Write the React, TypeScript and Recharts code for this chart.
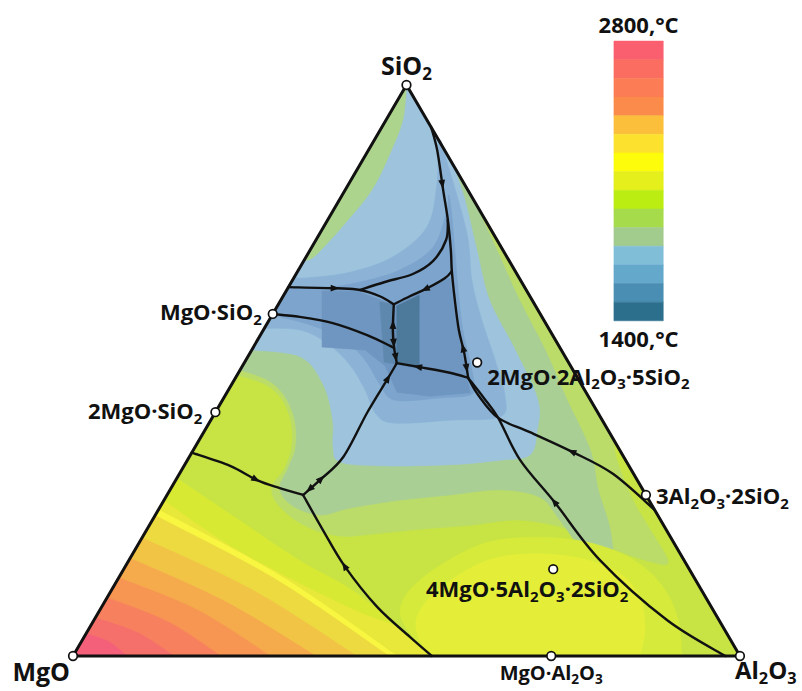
import React from "react";
import { ScatterChart, Scatter, XAxis, YAxis, ReferenceArea } from "recharts";

// every point is a composition [SiO2 wt%, Al2O3 wt%]; MgO = 100 - SiO2 - Al2O3
type Pt = [number, number];

const W = 802;
const H = 691;
const X_DOMAIN: [number, number] = [-10.945, 109.3];
const Y_DOMAIN: [number, number] = [-6.13, 114.886];
const FONT = '"Open Sans", "Noto Sans", sans-serif';
const INK = "#111";

const MGO_CORNER: Pt = [0, 0];
const AL2O3_CORNER: Pt = [0, 100];
const SIO2_CORNER: Pt = [100, 0];

const cornerNames = ["SiO2", "MgO", "Al2O3"];
const cornerPts: Pt[] = [SIO2_CORNER, MGO_CORNER, AL2O3_CORNER];

const compoundNames = ["MgO·SiO2", "2MgO·SiO2", "2MgO·2Al2O3·5SiO2", "3Al2O3·2SiO2", "4MgO·5Al2O3·2SiO2", "MgO·Al2O3"];
const compoundPts: Pt[] = [[59.9, 0], [42.7, 0], [51.4, 34.9], [28.2, 71.8], [15.2, 64.4], [0, 71.7]];

// colour scale, 2800 °C at the top down to 1400 °C
const tempTicks = ["2800,°C", "1400,°C"];
const colorSteps = [
  "#f95f6f", "#fa6d60", "#fb7c55", "#fb8b4b", "#fbbf3b", "#fce22f", "#fdfc0a", "#e5ef1c",
  "#bced12", "#a6dc4c", "#a2cb8e", "#80bed8", "#64a9cc", "#4b8eb3", "#2c6f8c",
];

// isotherms around the MgO corner, from the MgO-SiO2 side to the MgO-Al2O3 side
const isoMgO1: Pt[] = [[4.0, 0], [2.6, 4.1], [0, 8.2]];
const isoMgO2: Pt[] = [[6.8, 0], [4.2, 7.6], [0, 15.3]];
const isoMgO3: Pt[] = [[10.3, 0], [6.1, 11.2], [0, 22.3]];
const isoMgO4: Pt[] = [[13.8, 0], [8.1, 14.7], [0, 29.7]];
const isoMgO5: Pt[] = [[17.2, 0], [9.6, 18.1], [0, 36.6]];
const isoMgO6: Pt[] = [[20.8, 0], [11.6, 21.2], [0, 42.7]];
const isoMgO7: Pt[] = [[24.7, 0], [13.5, 23.7], [0, 47.5]];
const isoMgO8: Pt[] = [[25.7, 0], [14.0, 24.3], [0, 48.7]];
const isoMgO9: Pt[] = [[27.3, 0], [19.4, 13.8], [12.8, 27.6], [7.7, 39.2], [4.6, 47.4], [0, 53.8]];
const isoMgO10: Pt[] = [[31.2, 0], [23.8, 13.1], [16.8, 25.6], [12.4, 34.6], [8.6, 41.0], [0, 53.8]];

// isotherms closing around the low-temperature valley (outer to inner)
const valley1: Pt[] = [
  [49.2, 0], [47.6, 5.0], [45.0, 8.8], [41.0, 12.2], [36.6, 14.5], [32.9, 15.3], [29.4, 15.1], [26.1, 18.0],
  [22.8, 23.4], [21.0, 29.5], [21.5, 35.3], [22.2, 40.9], [22.9, 48.1], [23.8, 55.1], [22.1, 63.5], [18.9, 71.1],
  [16.5, 78.3], [16.5, 81.0], [22.1, 75.5], [27.3, 70.3], [34.3, 64.4], [37.8, 62.2],
];
const valley2: Pt[] = [
  [50.1, 0], [48.3, 5.1], [45.5, 9.0], [41.3, 12.6], [36.6, 15.1], [32.9, 15.8], [29.4, 16.3], [26.4, 19.6],
  [24.7, 24.7], [25.9, 28.6], [27.3, 35.4], [28.2, 42.4], [29.1, 49.5], [27.8, 56.1], [23.8, 61.1], [16.8, 69.1],
  [15.9, 72.8], [22.1, 69.5], [29.1, 64.2], [36.1, 59.5], [44.8, 51.7], [53.6, 44.0], [62.3, 35.8], [71.1, 28.0],
  [79.9, 20.1],
];
const valley3: Pt[] = [
  [53.6, 0], [52.4, 7.9], [47.5, 13.8], [41.3, 18.3], [36.6, 20.7], [34.0, 23.0], [33.3, 29.4], [33.5, 39.8],
  [34.3, 46.9], [35.2, 50.9], [39.6, 49.8], [44.8, 47.3], [53.6, 39.5], [62.3, 31.3], [71.1, 25.0], [79.9, 18.8],
  [85.1, 14.7], [87.7, 12.3],
];
const valley4: Pt[] = [
  [57.4, 0], [57.1, 5.5], [54.8, 10.7], [51.0, 16.0], [46.6, 20.5], [42.6, 24.0], [40.8, 27.6], [41.3, 35.9],
  [41.9, 43.1], [45.7, 41.9], [51.8, 37.4], [58.8, 31.9], [65.8, 26.9], [72.9, 22.8], [79.9, 17.8], [86.0, 13.2],
  [90.4, 9.7], [82.5, 13.3], [75.1, 15.5], [69.9, 13.0], [67.2, 7.9], [66.2, 1.7], [66.4, 0],
];
const valley5: Pt[] = [
  [59.7, 0], [58.0, 6.5], [55.3, 13.1], [51.8, 17.9], [47.5, 22.3], [44.8, 25.9], [45.2, 32.4], [45.7, 36.7],
  [47.5, 36.4], [51.8, 33.6], [57.1, 29.9], [64.1, 25.7], [71.1, 21.7], [77.2, 18.2], [80.7, 16.0], [78.1, 17.0],
  [71.6, 18.2], [67.6, 15.2], [65.5, 10.3], [64.6, 5.8], [64.4, 0],
];
const valley6: Pt[] = [
  [63.9, 5.4], [63.9, 10.6], [61.5, 17.2], [63.7, 20.2], [66.2, 23.4], [58.8, 28.0], [53.2, 31.7], [48.7, 34.7],
  [46.1, 36.5], [45.5, 30.8], [46.2, 25.5], [50.8, 21.4], [53.6, 17.0], [54.1, 10.3],
];
const valley7: Pt[] = [[62.0, 15.0], [61.6, 17.3], [51.1, 23.0], [51.5, 20.9]];
const valley8: Pt[] = [[61.3, 17.9], [63.2, 20.3], [50.4, 26.7], [51.1, 23.0]];

// hot dome over the spinel / sapphirine field
const dome1: Pt[] = [
  [0, 53.8], [4.0, 48.5], [7.7, 45.2], [11.6, 44.7], [15.9, 47.1], [19.8, 51.9], [20.8, 58.8], [20.0, 66.8],
  [17.2, 74.9], [12.4, 82.1], [6.3, 87.6], [0, 91.3],
];
const dome2: Pt[] = [
  [0, 53.8], [3.2, 50.2], [7.2, 48.1], [11.9, 49.1], [16.6, 53.5], [17.9, 60.0], [17.0, 68.0], [14.5, 74.7],
  [10.2, 79.9], [4.9, 83.3], [0, 85.0],
];
// warmer rim along the silica-rich MgO-SiO2 edge
const silicaRim: Pt[] = [[100, 0], [93.9, 2.5], [88.1, 3.5], [81.6, 4.0], [75.8, 2.9], [70.2, 1.3], [69.2, 0]];

// field boundaries
const bndTop: Pt[] = [[92.6, 7.4], [88.6, 10.3], [81.6, 14.7], [76.4, 18.0], [71.1, 21.1], [67.4, 23.1], [62.3, 26.1], [57.1, 29.3], [53.1, 32.1], [48.7, 34.9]];
const bndUpper: Pt[] = [[64.6, 0], [64.4, 7.4], [64.1, 11.0], [63.0, 14.5], [61.6, 17.3]];
const bndArc: Pt[] = [[64.1, 11.0], [65.5, 14.0], [66.9, 17.5], [69.2, 19.4], [72.9, 19.5], [76.4, 18.0]];
const bndLink: Pt[] = [[61.6, 17.3], [63.0, 19.0], [64.4, 20.9], [66.2, 22.7], [67.4, 23.1]];
const bndCentral: Pt[] = [[61.6, 17.3], [57.1, 19.4], [53.9, 21.2], [51.3, 22.9]];
const bndEnstatite: Pt[] = [[59.9, 0], [59.4, 4.3], [58.3, 9.8], [56.2, 16.0], [54.3, 20.4], [53.9, 21.2]];
const bndCordierite: Pt[] = [[51.3, 22.9], [50.6, 26.6], [49.6, 31.7], [48.7, 34.9]];
const bndMiddle: Pt[] = [[51.3, 22.9], [48.3, 22.9], [42.6, 22.8], [34.9, 23.1], [30.8, 21.6], [28.2, 20.4]];
const bndForsterite: Pt[] = [[35.6, 0], [33.3, 6.9], [30.8, 12.2], [29.4, 16.3], [28.2, 20.4]];
const bndSpinel: Pt[] = [[28.2, 20.4], [22.1, 26.4], [15.6, 33.0], [8.6, 41.3], [3.3, 48.9], [0, 53.8]];
const bndMullite: Pt[] = [[48.7, 34.9], [45.7, 37.9], [41.7, 42.9], [39.2, 48.9], [35.7, 57.1], [31.9, 65.0], [25.6, 74.4]];
const bndCorundum: Pt[] = [[48.7, 34.9], [45.2, 39.0], [41.7, 42.9], [34.3, 49.9], [26.8, 58.9], [16.8, 70.6], [6.3, 85.9], [0, 97.8]];

// arrows: segment index along a boundary, where on it, forward (1) or backward (-1)
const arrows = [
  { line: "top", seg: 1, t: 0.85, dir: 1 },
  { line: "top", seg: 7, t: 0.8, dir: -1 },
  { line: "top", seg: 8, t: 0.6, dir: 1 },
  { line: "upper", seg: 0, t: 0.95, dir: 1 },
  { line: "link", seg: 1, t: 0.9, dir: -1 },
  { line: "central", seg: 0, t: 0.8, dir: -1 },
  { line: "central", seg: 1, t: 0.7, dir: 1 },
  { line: "central", seg: 2, t: 0.6, dir: 1 },
  { line: "cordierite", seg: 0, t: 0.95, dir: -1 },
  { line: "middle", seg: 0, t: 0.9, dir: -1 },
  { line: "middle", seg: 3, t: 0.95, dir: -1 },
  { line: "middle", seg: 4, t: 0.6, dir: 1 },
  { line: "forsterite", seg: 1, t: 0.95, dir: 1 },
  { line: "spinel", seg: 1, t: 0.98, dir: -1 },
  { line: "mullite", seg: 3, t: 0.98, dir: -1 },
  { line: "corundum", seg: 3, t: 0.98, dir: -1 },
];

const boundaries = [
  { id: "top", pts: bndTop },
  { id: "upper", pts: bndUpper },
  { id: "arc", pts: bndArc },
  { id: "link", pts: bndLink },
  { id: "central", pts: bndCentral },
  { id: "enstatite", pts: bndEnstatite },
  { id: "cordierite", pts: bndCordierite },
  { id: "middle", pts: bndMiddle },
  { id: "forsterite", pts: bndForsterite },
  { id: "spinel", pts: bndSpinel },
  { id: "mullite", pts: bndMullite },
  { id: "corundum", pts: bndCorundum },
];

const REST: Pt[] = [AL2O3_CORNER, SIO2_CORNER];
const fills = [
  { curve: [MGO_CORNER, AL2O3_CORNER, SIO2_CORNER], tail: [], color: "#f4607a", smooth: false },
  { curve: isoMgO1, tail: REST, color: "#f6706b", smooth: true },
  { curve: isoMgO2, tail: REST, color: "#f7815e", smooth: true },
  { curve: isoMgO3, tail: REST, color: "#f79553", smooth: true },
  { curve: isoMgO4, tail: REST, color: "#f5ab4c", smooth: true },
  { curve: isoMgO5, tail: REST, color: "#f2c446", smooth: true },
  { curve: isoMgO6, tail: REST, color: "#ecda40", smooth: true },
  { curve: isoMgO7, tail: REST, color: "#f8f640", smooth: true },
  { curve: isoMgO8, tail: REST, color: "#e7e83a", smooth: true },
  { curve: isoMgO9, tail: REST, color: "#d7e933", smooth: true },
  { curve: isoMgO10, tail: REST, color: "#c7e444", smooth: true },
  { curve: valley1, tail: [SIO2_CORNER], color: "#bbdc68", smooth: true },
  { curve: valley2, tail: [SIO2_CORNER], color: "#a9cf95", smooth: true },
  { curve: valley3, tail: [SIO2_CORNER], color: "#9dc3dd", smooth: true },
  { curve: valley4, tail: [], color: "#8cb3d6", smooth: true },
  { curve: valley5, tail: [], color: "#7ca4cc", smooth: true },
  { curve: valley6, tail: [], color: "#6e96c0", smooth: false },
  { curve: valley7, tail: [], color: "#5f88ae", smooth: false },
  { curve: valley8, tail: [], color: "#4d799a", smooth: false },
  { curve: dome1, tail: [], color: "#d5ea3b", smooth: true },
  { curve: dome2, tail: [], color: "#e4ee38", smooth: true },
  { curve: silicaRim, tail: [], color: "#acd48d", smooth: true },
];

const labelLayout: Record<string, { dx: number; dy: number; anchor: "start" | "middle" | "end"; size: number }> = {
  SiO2: { dx: 0, dy: -10, anchor: "middle", size: 25 },
  MgO: { dx: -3, dy: 25, anchor: "end", size: 25 },
  Al2O3: { dx: -5, dy: 23, anchor: "start", size: 24 },
  "MgO·SiO2": { dx: -11, dy: 6, anchor: "end", size: 22 },
  "2MgO·SiO2": { dx: -13, dy: 7, anchor: "end", size: 22 },
  "2MgO·2Al2O3·5SiO2": { dx: 10, dy: 22, anchor: "start", size: 22 },
  "3Al2O3·2SiO2": { dx: 10, dy: 9, anchor: "start", size: 22 },
  "4MgO·5Al2O3·2SiO2": { dx: -26, dy: 28, anchor: "middle", size: 22 },
  "MgO·Al2O3": { dx: 0, dy: 24, anchor: "middle", size: 20 },
};

// colour bar placement in chart units
const CB = { x1: 81.1, x2: 88.5, top: 107.7, bottom: 58.7 };

const toXY = ([si, al]: Pt) => ({ x: al + si / 2, y: si });

function straightPath(pts: { x: number; y: number }[]) {
  return pts.map((p, i) => `${i ? "L" : "M"}${p.x},${p.y}`).join("");
}

function smoothPath(pts: { x: number; y: number }[]) {
  if (pts.length < 3) return straightPath(pts);
  let d = `M${pts[0].x},${pts[0].y}`;
  for (let i = 0; i < pts.length - 1; i++) {
    const p0 = pts[i - 1] || pts[i];
    const p1 = pts[i];
    const p2 = pts[i + 1];
    const p3 = pts[i + 2] || p2;
    const c1x = p1.x + (p2.x - p0.x) / 6;
    const c1y = p1.y + (p2.y - p0.y) / 6;
    const c2x = p2.x - (p3.x - p1.x) / 6;
    const c2y = p2.y - (p3.y - p1.y) / 6;
    d += `C${c1x},${c1y} ${c2x},${c2y} ${p2.x},${p2.y}`;
  }
  return d;
}

function chemParts(s: string) {
  const parts: { t: string; sub: boolean }[] = [];
  for (let i = 0; i < s.length; i++) {
    const c = s[i];
    const sub = /\d/.test(c) && i > 0 && /[A-Za-z]/.test(s[i - 1]);
    const last = parts[parts.length - 1];
    if (last && last.sub === sub) last.t += c;
    else parts.push({ t: c, sub });
  }
  return parts;
}

function ChemText({ x, y, text, size, anchor }: any) {
  const parts = chemParts(text);
  const shift = size * 0.22;
  return (
    <text x={x} y={y} textAnchor={anchor} fontSize={size} fontWeight={700} fontFamily={FONT} fill={INK}>
      {parts.map((p, i) => {
        const prevSub = i > 0 && parts[i - 1].sub;
        const dy = p.sub ? shift : prevSub ? -shift : 0;
        return (
          <tspan key={i} dy={dy} fontSize={p.sub ? size * 0.68 : size}>
            {p.t}
          </tspan>
        );
      })}
    </text>
  );
}

const noDot = () => <g />;

const fillLine = (n: number, color: string, smooth: boolean) => (props: any) => {
  const pts = props.points || [];
  const head = pts.slice(0, n);
  const tail = pts.slice(n);
  const d =
    (smooth ? smoothPath(head) : straightPath(head)) +
    tail.map((p: any) => `L${p.x},${p.y}`).join("") +
    "Z";
  return <path d={d} fill={color} stroke={color} strokeWidth={0.6} />;
};

const boundaryLine = (id: string) => (props: any) => {
  const pts = props.points || [];
  const heads = arrows
    .filter((a) => a.line === id)
    .map((a, i) => {
      const p = pts[a.seg];
      const q = pts[a.seg + 1];
      const x = p.x + (q.x - p.x) * a.t;
      const y = p.y + (q.y - p.y) * a.t;
      const len = Math.hypot(q.x - p.x, q.y - p.y) || 1;
      const ux = ((q.x - p.x) / len) * a.dir;
      const uy = ((q.y - p.y) / len) * a.dir;
      const tip = [x + ux * 5, y + uy * 5];
      const b1 = [x - ux * 4 - uy * 3.4, y - uy * 4 + ux * 3.4];
      const b2 = [x - ux * 4 + uy * 3.4, y - uy * 4 - ux * 3.4];
      return <path key={i} d={`M${tip}L${b1}L${b2}Z`} fill={INK} />;
    });
  return (
    <g>
      <path d={smoothPath(pts)} fill="none" stroke={INK} strokeWidth={2.4} strokeLinejoin="round" strokeLinecap="round" />
      {heads}
    </g>
  );
};

const outline = (props: any) => (
  <path d={straightPath(props.points || []) + "Z"} fill="none" stroke={INK} strokeWidth={3} strokeLinejoin="round" />
);

const markerShape = (props: any) => {
  const { cx, cy, payload } = props;
  const lay = labelLayout[payload.name];
  return (
    <g>
      <circle cx={cx} cy={cy} r={4.3} fill="#fff" stroke={INK} strokeWidth={1.7} />
      {lay && <ChemText x={cx + lay.dx} y={cy + lay.dy} text={payload.name} size={lay.size} anchor={lay.anchor} />}
    </g>
  );
};

const tickShape = (props: any) => {
  const { cx, cy, payload } = props;
  return (
    <text x={cx} y={cy + payload.dy} textAnchor="middle" fontSize={22} fontWeight={700} fontFamily={FONT} fill={INK}>
      {payload.label}
    </text>
  );
};

export default function App() {
  const step = (CB.top - CB.bottom) / colorSteps.length;
  const markers = [
    ...cornerNames.map((name, i) => ({ ...toXY(cornerPts[i]), name })),
    ...compoundNames.map((name, i) => ({ ...toXY(compoundPts[i]), name })),
  ];
  const cbMid = (CB.x1 + CB.x2) / 2;
  const cbLabels = [
    { x: cbMid, y: CB.top, label: tempTicks[0], dy: -8 },
    { x: cbMid, y: CB.bottom, label: tempTicks[1], dy: 26 },
  ];

  return (
    <div style={{ position: "absolute", left: 0, top: 0, width: W, height: H, background: "#fff" }}>
      <ScatterChart width={W} height={H} margin={{ top: 0, right: 0, bottom: 0, left: 0 }}>
        <XAxis type="number" dataKey="x" domain={X_DOMAIN} hide allowDataOverflow />
        <YAxis type="number" dataKey="y" domain={Y_DOMAIN} hide allowDataOverflow />
        {colorSteps.map((c, i) => (
          <ReferenceArea
            key={`cb${i}`}
            x1={CB.x1}
            x2={CB.x2}
            y1={CB.top - (i + 1) * step}
            y2={CB.top - i * step}
            fill={c}
            fillOpacity={1}
            stroke={c}
            strokeWidth={0.5}
            ifOverflow="visible"
          />
        ))}
        {fills.map((f, i) => (
          <Scatter
            key={`fill${i}`}
            data={[...f.curve, ...f.tail].map(toXY)}
            line={fillLine(f.curve.length, f.color, f.smooth)}
            shape={noDot}
            isAnimationActive={false}
          />
        ))}
        <Scatter
          data={[MGO_CORNER, AL2O3_CORNER, SIO2_CORNER].map(toXY)}
          line={outline}
          shape={noDot}
          isAnimationActive={false}
        />
        {boundaries.map((b) => (
          <Scatter
            key={b.id}
            data={b.pts.map(toXY)}
            line={boundaryLine(b.id)}
            shape={noDot}
            isAnimationActive={false}
          />
        ))}
        <Scatter data={markers} shape={markerShape} isAnimationActive={false} />
        <Scatter data={cbLabels} shape={tickShape} isAnimationActive={false} />
      </ScatterChart>
    </div>
  );
}
